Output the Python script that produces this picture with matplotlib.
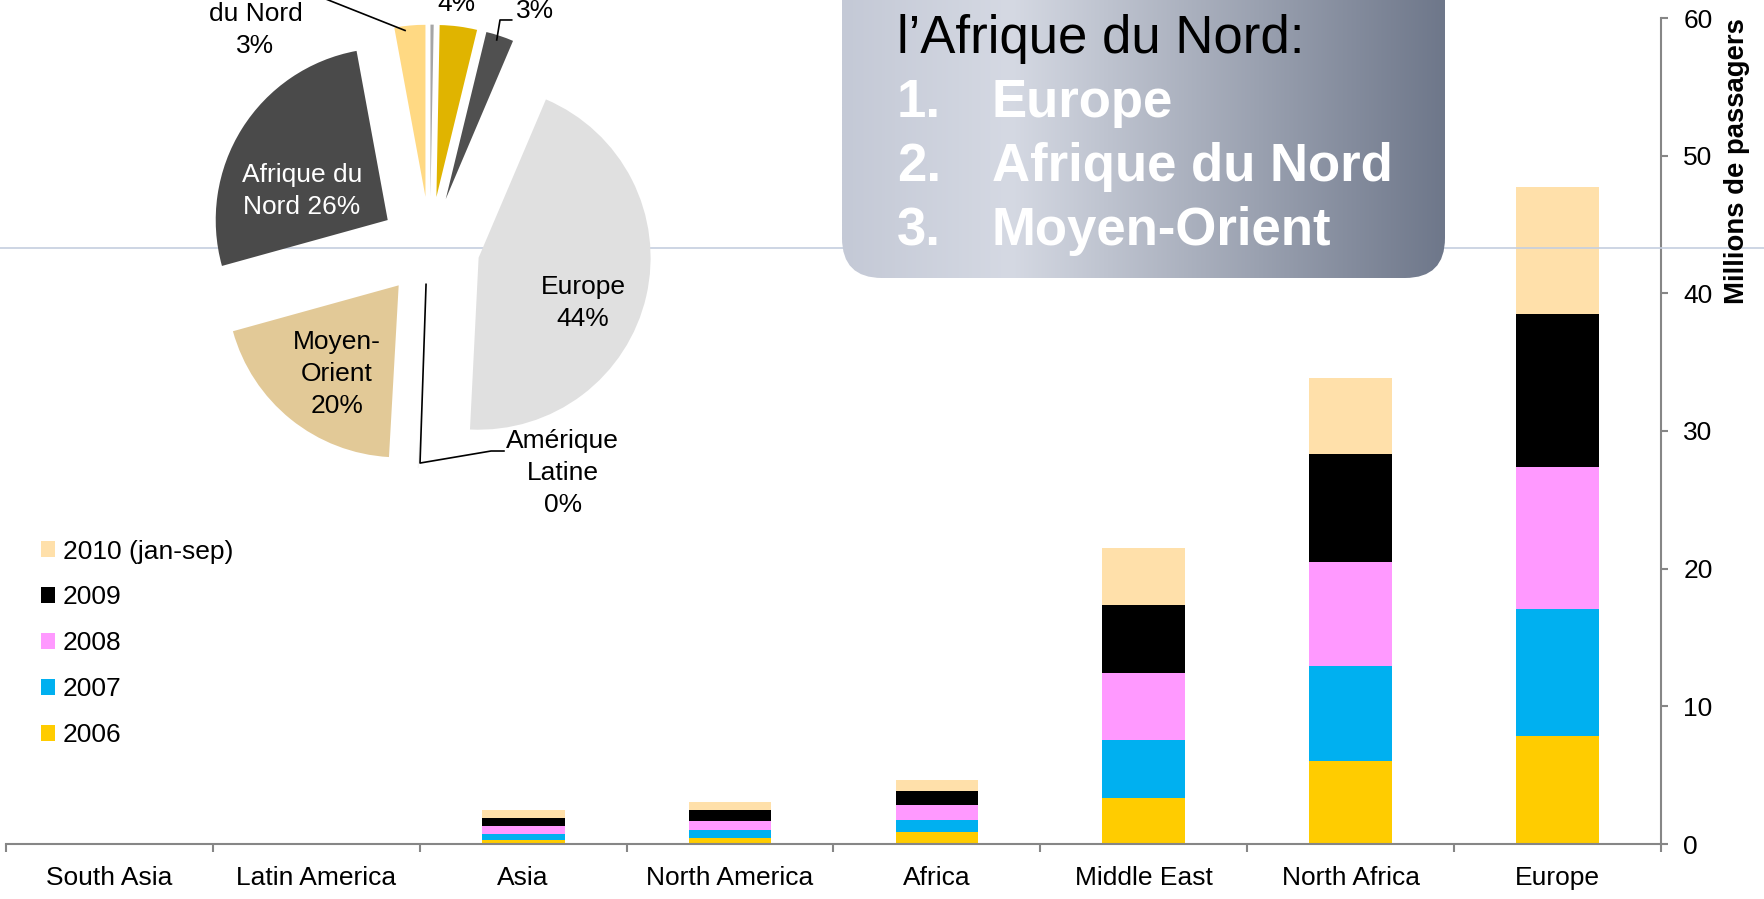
import numpy as np
import matplotlib
matplotlib.use("Agg")
import matplotlib.pyplot as plt
from matplotlib.patches import FancyBboxPatch, Patch
from matplotlib.lines import Line2D

plt.rcParams['font.family'] = ['Liberation Sans', 'DejaVu Sans']

# ---------------- data ----------------
categories = ["South Asia", "Latin America", "Asia", "North America", "Africa",
              "Middle East", "North Africa", "Europe"]
years = ["2006", "2007", "2008", "2009", "2010 (jan-sep)"]
v2006 = [0.02, 0.02, 0.29, 0.46, 0.87, 3.36, 6.03, 7.88]
v2007 = [0.02, 0.02, 0.46, 0.58, 0.90, 4.20, 6.87, 9.18]
v2008 = [0.02, 0.02, 0.58, 0.65, 1.09, 4.83, 7.60, 10.34]
v2009 = [0.02, 0.02, 0.58, 0.76, 1.01, 4.99, 7.80, 11.10]
v2010 = [0.02, 0.02, 0.56, 0.63, 0.78, 4.10, 5.54, 9.25]
year_colors = ["#FFCC00", "#00B0F0", "#FF99FF", "#000000", "#FFE0AA"]
yticks = [0, 10, 20, 30, 40, 50, 60]

pie_names = ["Asie du Sud", "Asie", "Afrique", "Europe", "Amérique\nLatine",
             "Moyen-\nOrient", "Afrique du\nNord", "Amérique\ndu Nord"]
pie_values = [0.3, 3.5, 2.6, 44.4, 0.1, 19.8, 26.4, 2.9]
pie_colors = ["#A6A6A6", "#E0B400", "#505050", "#E0E0E0", "#F4F4F4",
              "#E2C997", "#4A4A4A", "#FFD983"]

box_title = "l\u2019Afrique du Nord:"
box_items = ["Europe", "Afrique du Nord", "Moyen-Orient"]

# ---------------- figure ----------------
W, H = 1765, 899
fig = plt.figure(figsize=(W / 100, H / 100), dpi=100)
fig.patch.set_facecolor("white")

# ---- stacked bar chart ----
ax = fig.add_axes([6 / W, 55 / H, (1661 - 6) / W, (844 - 18) / H], zorder=0)
ax.set_facecolor("none")
x = np.arange(len(categories))
series = [v2006, v2007, v2008, v2009, v2010]
bottom = np.zeros(len(categories))
handles = []
for vals, col, lab in zip(series, year_colors, years):
    ax.bar(x, vals, width=0.4, bottom=bottom, color=col, linewidth=0)
    bottom += np.array(vals)
    handles.append(Patch(facecolor=col, edgecolor="none", label=lab))

ax.set_xlim(-0.5, len(categories) - 0.5)
ax.set_ylim(0, 60)
ax.set_xticks(x)
ax.set_xticklabels(categories)
ax.set_xticks(np.arange(-0.5, len(categories), 1), minor=True)
ax.tick_params(axis="x", which="major", length=0, pad=15.8, labelsize=19)
ax.tick_params(axis="x", which="minor", length=6, width=1.5, color="#868686",
               direction="out")
ax.yaxis.tick_right()
ax.set_yticks(yticks)
ax.tick_params(axis="y", length=5, width=1.5, color="#868686", pad=11,
               labelsize=19)
for s in ["left", "top"]:
    ax.spines[s].set_visible(False)
for s in ["right", "bottom"]:
    ax.spines[s].set_color("#868686")
    ax.spines[s].set_linewidth(1.5)

fig.text(1737 / W, 1 - 18 / H, "Millions de passagers", rotation=90,
         ha="center", va="top", fontsize=19.8, fontweight="bold")

ax.legend(handles[::-1], [h.get_label() for h in handles[::-1]],
          loc="upper left", bbox_to_anchor=(40.5 / W, 1 - 539.5 / H),
          bbox_transform=fig.transFigure, frameon=False, fontsize=19,
          handlelength=0.55, handleheight=0.55, handletextpad=0.3,
          labelspacing=0.83, borderpad=0, borderaxespad=0)

# ---- slide separator line ----
fig.add_artist(Line2D([0, 1], [1 - 248 / H, 1 - 248 / H],
                      transform=fig.transFigure, color="#C5CEDF",
                      linewidth=1.2, zorder=0.5))

# ---- exploded pie ----
R = 172.0  # pixels per unit radius
cx, cy = 430.0, 246.5
pleft, pright, ptop, pbot = 0.0, 860.0, -100.0, 700.0
axp = fig.add_axes([pleft / W, 1 - pbot / H, (pright - pleft) / W,
                    (pbot - ptop) / H], zorder=1)
axp.set_facecolor("none")
wedges, _ = axp.pie(pie_values, colors=pie_colors, startangle=90,
                    counterclock=False, explode=[0.29] * len(pie_values),
                    radius=1.0, wedgeprops=dict(linewidth=0))
axp.set_aspect("auto")
axp.set_xlim((pleft - cx) / R, (pright - cx) / R)
axp.set_ylim((cy - pbot) / R, (cy - ptop) / R)
axp.axis("off")

pct = [f"{round(v)}%" for v in pie_values]
lab_sep = ["\n", "\n", "\n", "\n", "\n", "\n", " ", "\n"]
labels = [n + s + p for n, s, p in zip(pie_names, lab_sep, pct)]
lab_pos = {1: (0.151, 1.50), 2: (0.61, 1.465), 3: (0.890, -0.331),
           4: (0.772, -1.316), 5: (-0.540, -0.740), 6: (-0.746, 0.322),
           7: (-1.0145, 1.350)}
lab_col = {6: "white"}
for i, (lx, ly) in lab_pos.items():
    axp.text(lx, ly, labels[i], ha="center", va="center", fontsize=19,
             color=lab_col.get(i, "black"), linespacing=1.42, clip_on=False)

# leader lines
leaders = [
    [(-0.023, -0.22), (-0.058, -1.259), (0.355, -1.189), (0.43, -1.189)],
    [(-0.145, 1.256), (-0.735, 1.49)],
    [(0.388, 1.201), (0.407, 1.317), (0.475, 1.317)],
]
for pts in leaders:
    xs, ys = zip(*pts)
    axp.plot(xs, ys, color="black", linewidth=1.2, clip_on=False)

# ---- rounded gradient text box ----
axo = fig.add_axes([0, 0, 1, 1], zorder=3)
axo.set_xlim(0, W)
axo.set_ylim(H, 0)
axo.axis("off")
axo.set_facecolor("none")
bx0, bx1, by0, by1 = 842, 1445, -80, 278
box = FancyBboxPatch((bx0, by0), bx1 - bx0, by1 - by0,
                     boxstyle="round,pad=0,rounding_size=40",
                     facecolor="none", edgecolor="none")
axo.add_patch(box)
stops_x = np.array([0.0, 0.28, 1.0])
stops_c = np.array([[196, 201, 214], [213, 217, 227], [110, 119, 138]]) / 255
gx = np.linspace(0, 1, 400)
grad = np.stack([np.interp(gx, stops_x, stops_c[:, k]) for k in range(3)],
                axis=-1)[None, :, :]
im = axo.imshow(grad, extent=(bx0, bx1, by1, by0), aspect="auto",
                interpolation="bilinear", zorder=1)
im.set_clip_path(box)

axo.text(897, 53, box_title, fontsize=38, color="black", ha="left",
         va="baseline", zorder=2)
for k, item in enumerate(box_items):
    yb = 117 + 64 * k
    axo.text(897, yb, f"{k + 1}.", fontsize=38, color="white",
             fontweight="bold", ha="left", va="baseline", zorder=2)
    axo.text(992, yb, item, fontsize=38, color="white", fontweight="bold",
             ha="left", va="baseline", zorder=2)

fig.savefig("out.png", dpi=100)
